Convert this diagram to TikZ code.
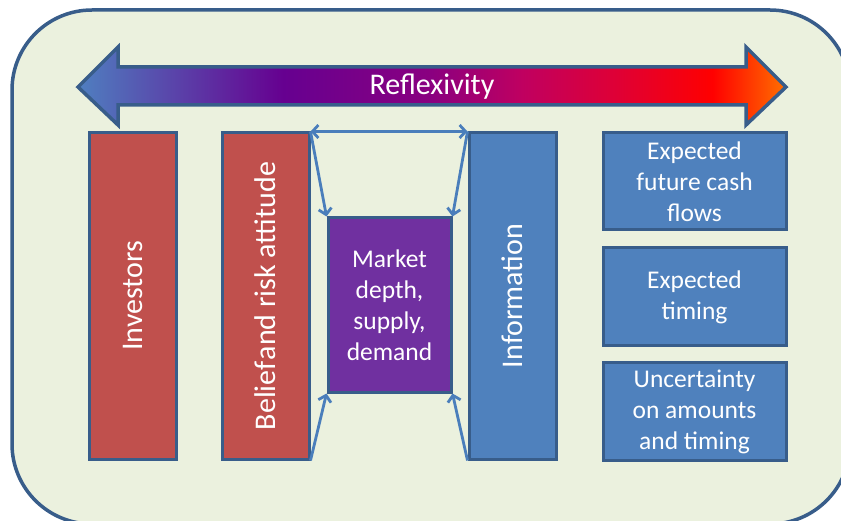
\documentclass[tikz,border=0pt]{standalone}
\usepackage{fontspec}
\usepackage{graphicx}
\setmainfont{Carlito}
\usetikzlibrary{arrows.meta}

\definecolor{frame}{HTML}{385D8A}
\definecolor{panel}{HTML}{EBF1DE}
\definecolor{brick}{HTML}{C0504D}
\definecolor{steel}{HTML}{4F81BD}
\definecolor{grape}{HTML}{7030A0}
\definecolor{link}{HTML}{4A7EBB}
% colour stops of the reflexivity band
\definecolor{ga}{HTML}{4F7FC0}
\definecolor{gb}{HTML}{660090}
\definecolor{gc}{HTML}{8A0080}
\definecolor{gd}{HTML}{C00060}
\definecolor{ge}{HTML}{DF0035}
\definecolor{gf}{HTML}{FF0000}
\definecolor{gg}{HTML}{FF7000}

\pgfdeclarehorizontalshading{reflex}{100bp}{%
  color(0bp)=(ga); color(25bp)=(ga); color(39.5bp)=(gb); color(49.9bp)=(gc);
  color(56.4bp)=(gd); color(63.1bp)=(ge); color(69.8bp)=(gf);
  color(75bp)=(gg); color(100bp)=(gg)}

\tikzset{
  >={Straight Barb[length=6pt,width=13pt]},
  box/.style={draw=frame, line width=3pt, inner sep=0pt, text=white, align=center},
  redbox/.style={box, fill=brick},
  bluebox/.style={box, fill=steel},
  purplebox/.style={box, fill=grape},
  tall/.style={minimum width=87pt, minimum height=326pt},
  wide/.style={minimum width=183pt},
  vfont/.style={font=\fontsize{30}{36}\selectfont},
  bfont/.style={font=\fontsize{25.5}{31}\selectfont},
  conn/.style={draw=link, line width=2.8pt, ->},
}

\begin{document}
\begin{tikzpicture}[x=1pt,y=-1pt]
\useasboundingbox (0,0) rectangle (841,521);
\clip (0,0) rectangle (841,521);

% panel behind everything
\draw[frame, line width=3.5pt, fill=panel, rounded corners=80pt] (12,10) rectangle (850,524);

% two-headed reflexivity band
\shadedraw[shading=reflex, draw=frame, line width=3.5pt, line join=miter]
  (78,87) -- (118,47) -- (118,67) -- (746,67) -- (746,47) -- (786,87)
  -- (746,125) -- (746,105) -- (118,105) -- (118,125) -- cycle;
\node[vfont, text=white] (refl) at (432,87) {Reflexivity};

% columns
\node[redbox, tall, vfont] (inv) at (132.5,296) {\rotatebox{90}{Investors}};
\node[redbox, tall, vfont] (bel) at (265.5,296) {\rotatebox{90}{Belief\kern1pt and risk attitude}};
\node[purplebox, bfont, minimum width=123pt, minimum height=174pt] (mkt) at (389.5,305)
  {Market\\depth,\\supply,\\demand};
\node[bluebox, tall, vfont] (info) at (512.5,296) {\rotatebox{90}{Information}};

% value drivers
\node[bluebox, wide, bfont, minimum height=97pt] (cash) at (694.5,181.5) {Expected\\future cash\\flows};
\node[bluebox, wide, bfont, minimum height=98pt] (time) at (694.5,297) {Expected\\timing};
\node[bluebox, wide, bfont, minimum height=97pt] (unc) at (694.5,411.5) {Uncertainty\\on amounts\\and timing};

% links around the market box
\draw[conn, <->] (bel.north east) -- (info.north west);
\draw[conn] (bel.north east) -- (mkt.north west);
\draw[conn] (info.north west) -- (mkt.north east);
\draw[conn] (bel.south east) -- (mkt.south west);
\draw[conn] (info.south west) -- (mkt.south east);
\end{tikzpicture}
\end{document}
